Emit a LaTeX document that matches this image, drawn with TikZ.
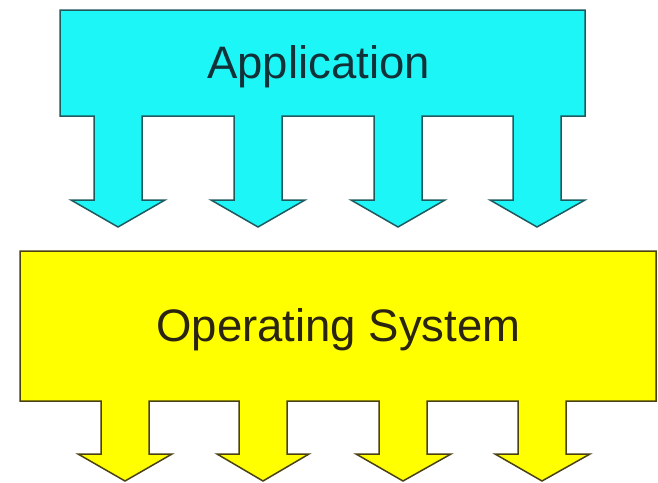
\documentclass[tikz,border=0pt]{standalone}
\usepackage{fontspec}
\setmainfont{Liberation Sans}
\definecolor{appfill}{HTML}{1CF6F6}
\definecolor{appline}{HTML}{1F5A5E}
\definecolor{osfill}{HTML}{FFFF00}
\definecolor{osline}{HTML}{4A4210}
\definecolor{apptext}{HTML}{12323A}
\definecolor{ostext}{HTML}{2A2410}
\tikzset{
  appshape/.style={fill=appfill, draw=appline, line width=1.5pt, line join=miter},
  osshape/.style={fill=osfill, draw=osline, line width=1.5pt, line join=miter},
  label/.style={anchor=base, inner sep=0pt, font=\fontsize{45.5}{50}\selectfont}
}
\begin{document}
\begin{tikzpicture}[x=1pt,y=-1pt]
\useasboundingbox (0,0) rectangle (658,482);
\fill[white] (0,0) rectangle (658,482);
% Application shape
\draw[appshape] (60,10) -- (585,10) -- (585,116)
  -- (561,116) -- (561,200) -- (585,200) -- (537,227) -- (490,200) -- (513,200) -- (513,116)
  -- (422,116) -- (422,200) -- (445,200) -- (398,227) -- (351,200) -- (374,200) -- (374,116)
  -- (282,116) -- (282,200) -- (305,200) -- (258,227) -- (211,200) -- (234,200) -- (234,116)
  -- (142,116) -- (142,200) -- (165,200) -- (118,227) -- (71,200) -- (94,200) -- (94,116)
  -- (60,116) -- cycle;
% Operating System shape
\draw[osshape] (20,251) -- (656,251) -- (656,401)
  -- (566,401) -- (566,454) -- (590,454) -- (542,481) -- (495,454) -- (518,454) -- (518,401)
  -- (427,401) -- (427,454) -- (451,454) -- (403,481) -- (356,454) -- (379,454) -- (379,401)
  -- (287,401) -- (287,454) -- (309,454) -- (263,481) -- (217,454) -- (239,454) -- (239,401)
  -- (149,401) -- (149,454) -- (172,454) -- (125,481) -- (78,454) -- (101,454) -- (101,401)
  -- (20,401) -- cycle;
\node[label, text=apptext] (app) at (318.5,78) {Application};
\node[label, text=ostext] (os) at (338.5,341) {Operating System};
\end{tikzpicture}
\end{document}
